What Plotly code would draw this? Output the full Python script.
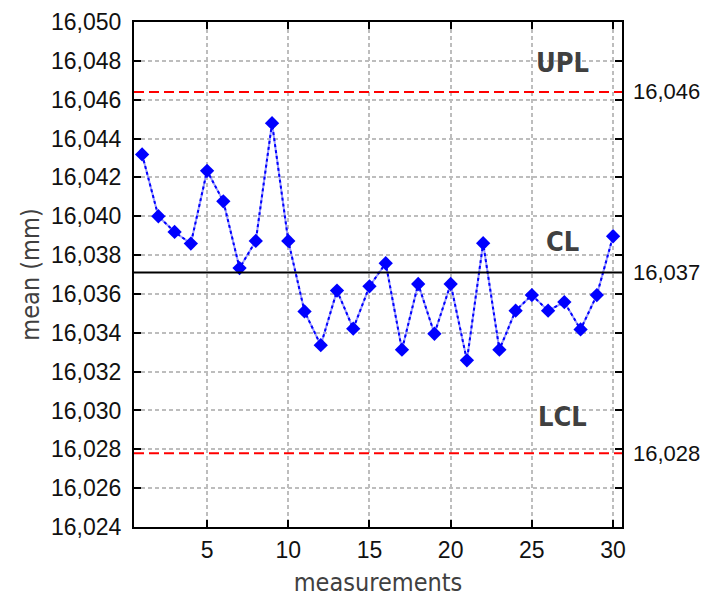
import plotly.graph_objects as go

measurements = list(range(1, 31))
means = [16.04318, 16.0400, 16.03919, 16.03859, 16.04234, 16.04077, 16.03733, 16.03873,
         16.04479, 16.03873, 16.0351, 16.03336, 16.03617, 16.03421, 16.03639, 16.03758,
         16.03313, 16.03651, 16.03395, 16.03651, 16.03258, 16.03861, 16.03313, 16.03514,
         16.03594, 16.03514, 16.03558, 16.03417, 16.03594, 16.03897]
UPL = 16.0464
CL = 16.0371
LCL = 16.0278
limit_names = ["UPL", "CL", "LCL"]
limit_values = [UPL, CL, LCL]
limit_labels = ["16,046", "16,037", "16,028"]
name_x = 26.9
name_y = [16.0479, 16.0387, 16.0297]

narrow = "DejaVu Sans Condensed, Liberation Sans Narrow, Arial Narrow, Liberation Sans, Arial, sans-serif"
regular = "Liberation Sans, Arial, sans-serif"

fig = go.Figure()
fig.add_trace(go.Scatter(x=measurements, y=means, mode="lines",
                         line=dict(color="#9a9aff", width=2), hoverinfo="skip", showlegend=False))
fig.add_trace(go.Scatter(x=measurements, y=means, mode="lines+markers",
                         line=dict(color="#0000ff", width=2, dash="dot"),
                         marker=dict(symbol="diamond", size=11, color="#0000ff"),
                         showlegend=False))

# limit lines
fig.add_shape(type="line", xref="paper", x0=0, x1=1, y0=UPL, y1=UPL,
              line=dict(color="#ff0000", width=2, dash="10px,5px"))
fig.add_shape(type="line", xref="paper", x0=0, x1=1, y0=CL, y1=CL,
              line=dict(color="#000000", width=2))
fig.add_shape(type="line", xref="paper", x0=0, x1=1, y0=LCL, y1=LCL,
              line=dict(color="#ff0000", width=2, dash="10px,5px"))

# limit name annotations
for n, yv in zip(limit_names, name_y):
    fig.add_annotation(x=name_x, y=yv, text="<b>%s</b>" % n, showarrow=False,
                       font=dict(family=narrow, size=27, color="#404040"))
# right side value labels
for lab, yv in zip(limit_labels, limit_values):
    fig.add_annotation(xref="paper", x=1, y=yv, text=lab, showarrow=False,
                       xanchor="left", xshift=9,
                       font=dict(family=regular, size=22, color="#111111"))

axis_common = dict(showline=True, linecolor="black", linewidth=2, mirror="ticks",
                   ticks="inside", ticklen=7, tickwidth=2, tickcolor="black",
                   showgrid=True, gridcolor="#bdbdbd", gridwidth=1.5, griddash="4px,3px",
                   zeroline=False, automargin=False,
                   tickfont=dict(family=regular, size=23, color="#111111"))

fig.update_xaxes(range=[0.5, 30.55], tick0=0, dtick=5, ticklabelstandoff=1,
                 title=dict(text="measurements", font=dict(family=narrow, size=25, color="#404040"),
                            standoff=12),
                 **axis_common)
fig.update_yaxes(range=[16.024, 16.050], tick0=16.024, dtick=0.002, tickformat=".3f",
                 ticklabelstandoff=6,
                 title=dict(text="mean (mm)", font=dict(family=narrow, size=25, color="#404040"),
                            standoff=4),
                 **axis_common)

# page body adds an 8px offset, so the figure is 8px smaller than the window
fig.update_layout(width=703, height=591, separators=",.",
                  margin=dict(l=126, r=89, t=14, b=72),
                  paper_bgcolor="white", plot_bgcolor="white")

fig.write_html("out.html")
